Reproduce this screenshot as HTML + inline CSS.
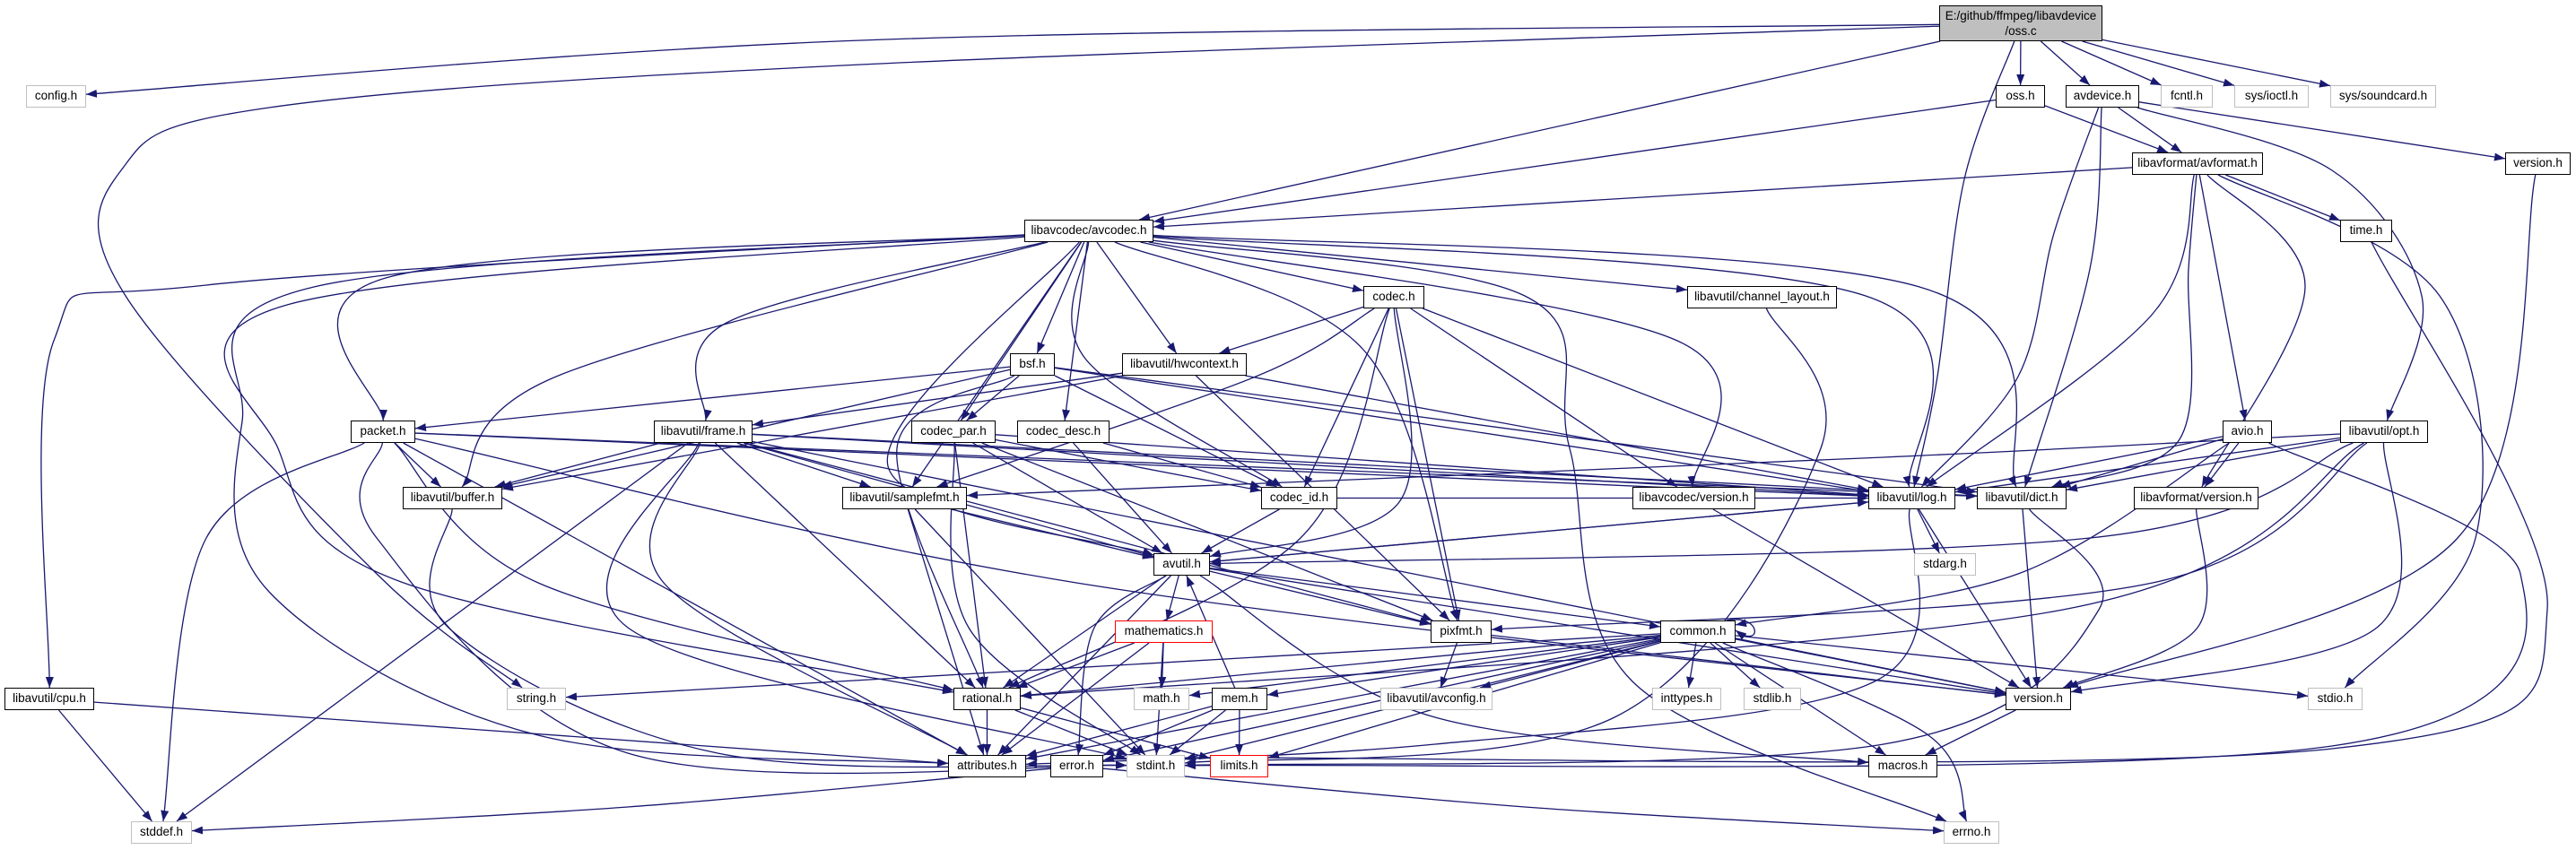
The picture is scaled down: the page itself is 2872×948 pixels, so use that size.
<!DOCTYPE html>
<html><head><meta charset="utf-8">
<style>
html,body{margin:0;padding:0;background:#fff;}
#wrap{position:relative;width:2872px;height:948px;overflow:hidden;background:#fff;}
svg{position:absolute;left:0;top:0;}
.n{position:absolute;box-sizing:border-box;height:25px;border:1.5px solid #000;background:#fff;font-family:"Liberation Sans",sans-serif;font-size:13.5px;line-height:22px;text-align:center;color:#000;white-space:nowrap;z-index:2;}
.g{border:1.5px solid #bfbfbf;}
.r{border:1.5px solid #ff0000;}
#ossc{background:#bfbfbf;height:40px;line-height:17px;padding-top:2px;}
</style></head><body>
<div id="wrap">
<svg id="s" width="2872" height="948" xmlns="http://www.w3.org/2000/svg">
<defs><marker id="a" markerUnits="userSpaceOnUse" markerWidth="13" markerHeight="10" refX="12" refY="4.5" orient="auto"><path d="M0,0 L12,4.5 L0,9 z" fill="#191970"/></marker></defs>
<g id="eg" fill="none" stroke="#191970" stroke-width="1.3"></g>
</svg>
<div class="n" id="ossc" style="left:2162px;top:6px;width:182px;">E:/github/ffmpeg/libavdevice<br>/oss.c</div>
<div class="n g" id="config" style="left:29px;top:95px;width:67px;">config.h</div>
<div class="n" id="osh" style="left:2225px;top:95px;width:55px;">oss.h</div>
<div class="n" id="avdev" style="left:2303px;top:95px;width:82px;">avdevice.h</div>
<div class="n g" id="fcntl" style="left:2409px;top:95px;width:58px;">fcntl.h</div>
<div class="n g" id="ioctl" style="left:2491px;top:95px;width:83px;">sys/ioctl.h</div>
<div class="n g" id="sndcard" style="left:2598px;top:95px;width:118px;">sys/soundcard.h</div>
<div class="n" id="avformat" style="left:2377px;top:170px;width:146px;">libavformat/avformat.h</div>
<div class="n" id="dver" style="left:2793px;top:170px;width:73px;">version.h</div>
<div class="n" id="timeh" style="left:2609px;top:245px;width:58px;">time.h</div>
<div class="n" id="avcodec" style="left:1142px;top:245px;width:144px;">libavcodec/avcodec.h</div>
<div class="n" id="codec" style="left:1520px;top:319px;width:68px;">codec.h</div>
<div class="n" id="chl" style="left:1881px;top:319px;width:167px;">libavutil/channel_layout.h</div>
<div class="n" id="bsf" style="left:1126px;top:394px;width:50px;">bsf.h</div>
<div class="n" id="hw" style="left:1251px;top:394px;width:139px;">libavutil/hwcontext.h</div>
<div class="n" id="packet" style="left:391px;top:469px;width:72px;">packet.h</div>
<div class="n" id="frame" style="left:729px;top:469px;width:110px;">libavutil/frame.h</div>
<div class="n" id="cpar" style="left:1016px;top:469px;width:94px;">codec_par.h</div>
<div class="n" id="cdesc" style="left:1134px;top:469px;width:103px;">codec_desc.h</div>
<div class="n" id="avio" style="left:2478px;top:469px;width:55px;">avio.h</div>
<div class="n" id="opt" style="left:2609px;top:469px;width:98px;">libavutil/opt.h</div>
<div class="n" id="buffer" style="left:449px;top:543px;width:111px;">libavutil/buffer.h</div>
<div class="n" id="sfmt" style="left:939px;top:543px;width:139px;">libavutil/samplefmt.h</div>
<div class="n" id="cid" style="left:1406px;top:543px;width:85px;">codec_id.h</div>
<div class="n" id="cver" style="left:1820px;top:543px;width:137px;">libavcodec/version.h</div>
<div class="n" id="log" style="left:2083px;top:543px;width:97px;">libavutil/log.h</div>
<div class="n" id="dict" style="left:2204px;top:543px;width:100px;">libavutil/dict.h</div>
<div class="n" id="fver" style="left:2379px;top:543px;width:139px;">libavformat/version.h</div>
<div class="n" id="avutil" style="left:1286px;top:617px;width:63px;">avutil.h</div>
<div class="n g" id="stdarg" style="left:2134px;top:617px;width:69px;">stdarg.h</div>
<div class="n r" id="math" style="left:1243px;top:692px;width:109px;">mathematics.h</div>
<div class="n" id="pixfmt" style="left:1595px;top:692px;width:68px;">pixfmt.h</div>
<div class="n" id="common" style="left:1851px;top:692px;width:84px;">common.h</div>
<div class="n" id="cpu" style="left:5px;top:767px;width:100px;">libavutil/cpu.h</div>
<div class="n g" id="string" style="left:565px;top:767px;width:66px;">string.h</div>
<div class="n" id="rational" style="left:1063px;top:767px;width:75px;">rational.h</div>
<div class="n g" id="mathh" style="left:1264px;top:767px;width:62px;">math.h</div>
<div class="n" id="mem" style="left:1351px;top:767px;width:62px;">mem.h</div>
<div class="n g" id="avconfig" style="left:1539px;top:767px;width:125px;">libavutil/avconfig.h</div>
<div class="n g" id="inttypes" style="left:1842px;top:767px;width:77px;">inttypes.h</div>
<div class="n g" id="stdlib" style="left:1944px;top:767px;width:64px;">stdlib.h</div>
<div class="n" id="uver" style="left:2236px;top:767px;width:73px;">version.h</div>
<div class="n g" id="stdio" style="left:2573px;top:767px;width:61px;">stdio.h</div>
<div class="n" id="attr" style="left:1057px;top:842px;width:87px;">attributes.h</div>
<div class="n" id="error" style="left:1171px;top:842px;width:59px;">error.h</div>
<div class="n g" id="stdint" style="left:1256px;top:842px;width:65px;">stdint.h</div>
<div class="n r" id="limits" style="left:1349px;top:842px;width:65px;">limits.h</div>
<div class="n" id="macros" style="left:2083px;top:842px;width:77px;">macros.h</div>
<div class="n g" id="stddef" style="left:146px;top:916px;width:68px;">stddef.h</div>
<div class="n g" id="errno" style="left:2167px;top:916px;width:62px;">errno.h</div>
</div>
<script>
(function(){
function box(id){var e=document.getElementById(id);return {x:e.offsetLeft,y:e.offsetTop,w:e.offsetWidth,h:e.offsetHeight};}
function clip(b,p){var cx=b.x+b.w/2,cy=b.y+b.h/2,dx=p[0]-cx,dy=p[1]-cy;
 if(dx===0&&dy===0)return [cx,cy];
 var t=Math.min(dx?(b.w/2)/Math.abs(dx):1e9,dy?(b.h/2)/Math.abs(dy):1e9);
 return [cx+dx*t,cy+dy*t];}
function ctr(b){return [b.x+b.w/2,b.y+b.h/2];}
var E=[
["ossc","config",[[960,45]]],["ossc","string",[[960,72],[300,120],[135,190],[140,330],[420,640]]],
["ossc","avcodec"],["ossc","log",[[2190,200],[2160,420]]],["ossc","osh"],["ossc","avdev"],["ossc","fcntl"],["ossc","ioctl"],["ossc","sndcard"],
["osh","avformat"],["osh","avcodec"],
["avdev","avformat"],["avdev","log",[[2290,260],[2250,420]]],["avdev","dict",[[2330,300]]],["avdev","dver"],["avdev","opt",[[2600,190],[2700,330]]],
["avformat","avcodec"],["avformat","log",[[2400,350]]],["avformat","dict",[[2440,300],[2430,490]]],["avformat","timeh"],["avformat","avio"],["avformat","fver",[[2570,320]]],["avformat","stdio",[[2720,330],[2760,600]]],
["dver","uver",[[2740,600]]],
["timeh","stdint",[[2840,680],[2600,835],[1330,845]]],
["avio","log"],["avio","dict"],["avio","fver"],["avio","common",[[2250,640]]],["avio","stdint",[[2810,640],[2600,832]]],
["opt","log"],["opt","dict"],["opt","avutil",[[2330,600]]],["opt","pixfmt",[[2400,650]]],["opt","rational",[[2300,680]]],["opt","sfmt",[[2100,510]]],["opt","uver",[[2650,700]]],
["log","avutil"],["log","stdarg"],["log","uver"],["log","attr",[[2090,760],[1600,830]]],
["dict","uver"],["dict","stdint",[[2340,680],[2100,830]]],
["fver","uver",[[2450,700]]],
["avcodec","packet",[[430,310]]],["avcodec","buffer",[[620,420]]],["avcodec","frame",[[810,360]]],
["avcodec","cpu",[[230,318],[60,380]]],["avcodec","attr",[[350,320],[270,470],[300,660],[600,820]]],
["avcodec","rational",[[320,340],[310,500],[450,650]]],["avcodec","sfmt"],["avcodec","avutil",[[990,520]]],["avcodec","bsf"],["avcodec","codec"],["avcodec","cpar"],["avcodec","cdesc"],["avcodec","cid",[[1210,400]]],["avcodec","hw"],["avcodec","pixfmt",[[1520,390]]],["avcodec","chl"],["avcodec","log",[[2080,330]]],["avcodec","dict",[[2140,320]]],["avcodec","cver",[[1870,380]]],["avcodec","errno",[[1700,330],[1750,500],[1820,760]]],
["codec","hw"],["codec","sfmt",[[1400,420]]],["codec","cid"],["codec","avutil",[[1560,560]]],["codec","pixfmt"],["codec","log"],["codec","rational",[[1450,600]]],["codec","cver"],
["bsf","packet"],["bsf","cpar"],["bsf","cid"],["bsf","log"],["bsf","dict"],["bsf","buffer"],["bsf","rational",[[1000,500]]],
["hw","frame"],["hw","buffer"],["hw","pixfmt"],["hw","log"],
["packet","buffer"],["packet","stddef",[[230,600]]],["packet","stdint",[[420,600],[700,840]]],["packet","attr"],["packet","rational",[[600,650]]],["packet","uver",[[1200,650]]],["packet","dict"],["packet","log"],
["frame","buffer"],["frame","stddef"],["frame","stdint",[[700,700]]],["frame","attr",[[740,650]]],["frame","rational"],["frame","sfmt"],["frame","avutil"],["frame","pixfmt"],["frame","dict"],["frame","log"],["frame","uver"],
["cpar","cid"],["cpar","avutil"],["cpar","rational"],["cpar","pixfmt"],["cpar","stdint",[[1080,700]]],["cpar","log"],
["cdesc","cid"],["cdesc","avutil"],
["sfmt","avutil"],["sfmt","attr"],["sfmt","stdint"],
["cid","avutil"],["cid","log"],
["chl","stdint",[[2030,500],[1800,800]]],
["cver","uver"],
["cpu","stddef"],["cpu","attr"],
["buffer","stdint",[[500,700],[800,840]]],
["avutil","common"],["avutil","rational"],["avutil","math"],["avutil","pixfmt"],["avutil","log"],["avutil","uver"],["avutil","error",[[1220,700]]],["avutil","macros",[[1600,800]]],["avutil","attr"],
["math","rational"],["math","mathh"],["math","stdint"],["math","attr"],
["mem","avutil"],["mem","attr"],["mem","stdint"],["mem","limits"],["mem","error"],
["pixfmt","avconfig"],["pixfmt","uver"],
["common","string"],["common","rational"],["common","mem"],["common","avconfig"],["common","inttypes"],["common","stdlib"],["common","uver"],["common","stdio"],["common","attr"],["common","stdint"],["common","limits"],["common","errno",[[2150,820]]],["common","error"],["common","macros"],["common","mathh"],
["rational","attr"],["rational","stdint"],["rational","limits"],
["error","errno",[[1700,900]]],["error","stddef",[[700,900]]],
["uver","macros"]
];
function cr(P){var d="M"+P[0][0].toFixed(1)+","+P[0][1].toFixed(1);
 if(P.length==2)return d+" L"+P[1][0].toFixed(1)+","+P[1][1].toFixed(1);
 for(var i=0;i<P.length-1;i++){var p0=P[i>0?i-1:0],p1=P[i],p2=P[i+1],p3=P[i+2<P.length?i+2:P.length-1];
  var c1=[p1[0]+(p2[0]-p0[0])/6,p1[1]+(p2[1]-p0[1])/6],c2=[p2[0]-(p3[0]-p1[0])/6,p2[1]-(p3[1]-p1[1])/6];
  d+=" C"+c1[0].toFixed(1)+","+c1[1].toFixed(1)+" "+c2[0].toFixed(1)+","+c2[1].toFixed(1)+" "+p2[0].toFixed(1)+","+p2[1].toFixed(1);}
 return d;}
var g=document.getElementById("eg"),ns="http://www.w3.org/2000/svg";
E.forEach(function(e){var a=box(e[0]),b=box(e[1]),w=e[2]||[];
 var first=w.length?w[0]:ctr(b),last=w.length?w[w.length-1]:ctr(a);
 var P=[clip(a,first)].concat(w).concat([clip(b,last)]);
 var p=document.createElementNS(ns,"path");p.setAttribute("d",cr(P));p.setAttribute("marker-end","url(#a)");g.appendChild(p);});
var c=box("common");var p=document.createElementNS(ns,"path");
p.setAttribute("d","M"+(c.x+c.w-10)+","+(c.y)+" C"+(c.x+c.w+30)+","+(c.y-8)+" "+(c.x+c.w+30)+","+(c.y+c.h+8)+" "+(c.x+c.w)+","+(c.y+c.h-14));
p.setAttribute("marker-end","url(#a)");g.appendChild(p);
})();
</script>
</body></html>
